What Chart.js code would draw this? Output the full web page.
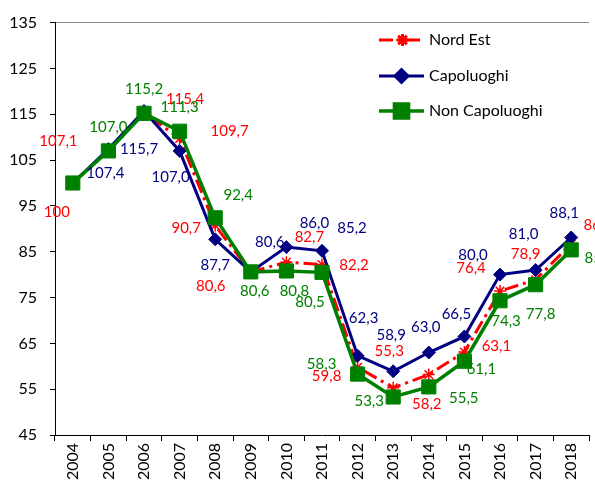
<!DOCTYPE html>
<html>
<head>
<meta charset="utf-8">
<script src="https://cdn.jsdelivr.net/npm/chart.js@4.4.1/dist/chart.umd.min.js"></script>
<style>
html, body { margin: 0; padding: 0; background: #fff; overflow: hidden; }
#wrap { width: 600px; height: 488px; position: relative; }
</style>
</head>
<body>
<div id="wrap"><canvas id="grafico"></canvas></div>
<script>
// Dati: numeri indice (2004 = 100)
const anni = ['2004', '2005', '2006', '2007', '2008', '2009', '2010', '2011', '2012', '2013', '2014', '2015', '2016', '2017', '2018'];
const nordEst = [100, 107.1, 115.4, 109.7, 90.7, 80.6, 82.7, 82.2, 59.8, 55.3, 58.2, 63.1, 76.4, 78.9, 86.7];
const capoluoghi = [100, 107.4, 115.7, 107.0, 87.7, 80.6, 86.0, 85.2, 62.3, 58.9, 63.0, 66.5, 80.0, 81.0, 88.1];
const nonCapoluoghi = [100, 107.0, 115.2, 111.3, 92.4, 80.6, 80.8, 80.5, 58.3, 53.3, 55.5, 61.1, 74.3, 77.8, 85.4];
const yMin = 45, yMax = 135, yPasso = 10;

// Colori
const ROSSO = '#ff0000';
const BLU = '#000080';
const VERDE = '#008000';
const FONT = 'Lato, "Open Sans", sans-serif';

// Spostamento delle etichette rispetto al punto (px), null = nessuna etichetta
const offRosso = [[-16, 29], [-50, -9], [41, -13], [50, -7], [-29, 3], [-40, 14], [23, -25], [32, 1], [-31, 9], [-4, -37], [-2, 30], [32, -6], [-29, -23], [-10, -26], [27, -19]];
const offBlu = [null, [-3, 24], [-5, 38], [-9, 26], [0, 26], [19, -30], [28, -24], [30, -23], [6, -38], [-2, -36], [-3, -25], [-8, -22], [-27, -19], [-12, -36], [-7, -24]];
const offVerde = [null, [0, -24], [0, -24], [0, -24], [23, -23], [4, 19], [8, 20], [-12, 30], [-36, -10], [-24, 4], [35, 11], [17, 8], [6, 20], [5, 29], [28, 8]];

function formatta(v, i) {
    // anno base senza decimali
    if (i === 0) return String(v);
    return v.toFixed(1).replace('.', ',');
}

// Etichette dei valori
const etichettePlugin = {
    id: 'etichette',
    afterDatasetsDraw(chart) {
        const ctx = chart.ctx;
        ctx.save();
        ctx.font = '15px ' + FONT;
        ctx.textAlign = 'center';
        ctx.textBaseline = 'middle';
        chart.data.datasets.forEach((ds, di) => {
            const meta = chart.getDatasetMeta(di);
            meta.data.forEach((pt, i) => {
                const off = ds.offsets[i];
                if (!off) return;
                ctx.fillStyle = ds.borderColor;
                ctx.fillText(formatta(ds.data[i], i), pt.x + off[0], pt.y + off[1]);
            });
        });
        ctx.restore();
    }
};

// Legenda dentro l'area del grafico
const legendaPlugin = {
    id: 'legendaInterna',
    afterDraw(chart) {
        const ctx = chart.ctx;
        const x0 = 379, x1 = 424, righe = [40, 76, 111];
        chart.data.datasets.forEach((ds, di) => {
            const y = righe[di];
            ctx.save();
            ctx.strokeStyle = ds.borderColor;
            ctx.lineWidth = ds.borderWidth;
            ctx.setLineDash(ds.borderDash || []);
            ctx.beginPath();
            ctx.moveTo(x0, y);
            ctx.lineTo(x1, y);
            ctx.stroke();
            ctx.setLineDash([]);
            Chart.helpers.drawPoint(ctx, {
                pointStyle: ds.pointStyle,
                radius: ds.pointRadius,
                borderWidth: ds.pointBorderWidth,
                rotation: 0
            }, (x0 + x1) / 2 + (di === 0 ? 1 : 0), y);
            ctx.fillStyle = ds.pointBackgroundColor;
            ctx.strokeStyle = ds.pointBorderColor;
            ctx.lineWidth = ds.pointBorderWidth;
            ctx.fill();
            ctx.stroke();
            ctx.fillStyle = '#000';
            ctx.font = '16px ' + FONT;
            ctx.textAlign = 'left';
            ctx.textBaseline = 'middle';
            ctx.fillText(ds.label, 429, y);
            ctx.restore();
        });
    }
};

new Chart(document.getElementById('grafico').getContext('2d'), {
    type: 'line',
    data: {
        labels: anni,
        datasets: [{
            label: 'Nord Est',
            data: nordEst,
            offsets: offRosso,
            borderColor: ROSSO,
            borderWidth: 3,
            borderDash: [14, 5, 3, 5],
            pointStyle: 'star',
            pointRadius: 6,
            pointBorderWidth: 1.5,
            pointBackgroundColor: ROSSO,
            pointBorderColor: ROSSO,
            order: 3
        }, {
            label: 'Capoluoghi',
            data: capoluoghi,
            offsets: offBlu,
            borderColor: BLU,
            borderWidth: 3,
            pointStyle: 'rectRot',
            pointRadius: 6.5,
            pointBorderWidth: 1,
            pointBackgroundColor: BLU,
            pointBorderColor: BLU,
            order: 2
        }, {
            label: 'Non Capoluoghi',
            data: nonCapoluoghi,
            offsets: offVerde,
            borderColor: VERDE,
            borderWidth: 3.5,
            pointStyle: 'rect',
            pointRadius: 10,
            pointBorderWidth: 1,
            pointBackgroundColor: VERDE,
            pointBorderColor: VERDE,
            order: 1
        }]
    },
    options: {
        responsive: true,
        maintainAspectRatio: false,
        animation: false,
        layout: { padding: { top: 15, right: 2, left: 0, bottom: 0 } },
        elements: { line: { tension: 0, fill: false } },
        scales: {
            x: {
                offset: true,
                grid: { offset: true, drawOnChartArea: false, tickLength: 6, tickColor: '#000' },
                border: { color: '#000', width: 1 },
                ticks: {
                    autoSkip: false,
                    minRotation: 90,
                    maxRotation: 90,
                    padding: 2,
                    color: '#000',
                    font: { family: FONT, size: 16 }
                },
                afterFit(scale) { scale.height = 53; }
            },
            y: {
                min: yMin,
                max: yMax,
                grid: {
                    color: c => (c.tick && c.tick.value === yMax) ? '#8c8c8c' : 'rgba(0,0,0,0)',
                    tickColor: '#000',
                    tickLength: 5
                },
                border: { color: '#000', width: 1 },
                ticks: {
                    stepSize: yPasso,
                    padding: 13,
                    color: '#000',
                    font: { family: FONT, size: 16 }
                },
                afterFit(scale) { scale.width = 55; }
            }
        },
        plugins: {
            legend: { display: false },
            tooltip: { enabled: false }
        }
    },
    plugins: [etichettePlugin, legendaPlugin]
});
</script>
</body>
</html>
